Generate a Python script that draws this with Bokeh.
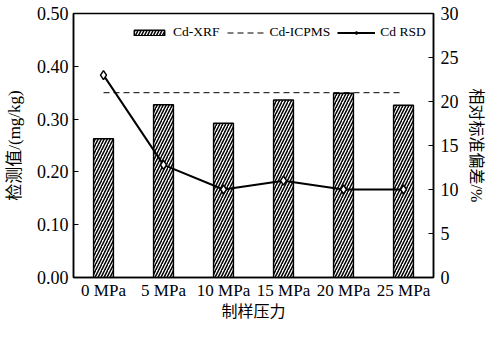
from bokeh.plotting import figure
from bokeh.models import (Range1d, LinearAxis, FactorRange, Legend, LegendItem,
                          FixedTicker, NumeralTickFormatter)
from bokeh.embed import file_html
from bokeh.resources import INLINE

categories = ["0 MPa", "5 MPa", "10 MPa", "15 MPa", "20 MPa", "25 MPa"]
xrf = [0.263, 0.327, 0.292, 0.336, 0.349, 0.326]
icpms = [0.35, 0.35, 0.35, 0.35, 0.35, 0.35]
rsd = [23.0, 12.8, 10.0, 11.0, 10.0, 10.0]
left_ticks = [0.0, 0.1, 0.2, 0.3, 0.4, 0.5]
right_ticks = [0, 5, 10, 15, 20, 25, 30]

SERIF = "'Liberation Serif', 'Noto Sans CJK SC'"

p = figure(x_range=FactorRange(*categories, range_padding=0), y_range=Range1d(0, 0.5),
           width=487, height=322, output_backend="svg", toolbar_location=None,
           min_border_left=73, min_border_right=51, min_border_top=13, min_border_bottom=42)
p.extra_y_ranges = {"rsd": Range1d(0, 30)}

p.xgrid.visible = False
p.ygrid.visible = False
p.outline_line_color = "black"
p.outline_line_width = 1.5
p.outline_line_alpha = 1

bars = p.vbar(x=categories, top=xrf, width=0.33, fill_color="white", line_color="black",
              line_width=1.5, hatch_pattern="/", hatch_color="black", hatch_weight=1.5,
              hatch_scale=6)
dash = p.line(categories, icpms, line_dash="6 4", line_color="black", line_width=1)
rl = p.line(categories, rsd, y_range_name="rsd", line_color="black", line_width=2)
rs = p.scatter(categories, rsd, y_range_name="rsd", marker="diamond", size=9,
               fill_color="white", line_color="black", line_width=1.5)

xa = p.xaxis[0]
xa.major_tick_in = 0
xa.major_tick_out = 0
xa.minor_tick_in = 0
xa.minor_tick_out = 0
xa.axis_line_width = 1.5
xa.major_label_text_font = SERIF
xa.major_label_text_font_size = "17px"
xa.major_label_text_color = "black"
xa.major_label_standoff = 3
xa.axis_label = "制样压力"
xa.axis_label_text_font = SERIF
xa.axis_label_text_font_size = "16px"
xa.axis_label_text_font_style = "normal"
xa.axis_label_text_color = "black"
xa.axis_label_standoff = 0

ya = p.yaxis[0]
ya.ticker = FixedTicker(ticks=left_ticks)
ya.formatter = NumeralTickFormatter(format="0.00")
ya.major_tick_in = 5
ya.major_tick_out = 0
ya.minor_tick_in = 0
ya.minor_tick_out = 0
ya.axis_line_width = 1.5
ya.major_label_text_font = SERIF
ya.major_label_text_font_size = "18px"
ya.major_label_text_color = "black"
ya.major_label_standoff = 5
ya.axis_label = "检测值/(mg/kg)"
ya.axis_label_text_font = SERIF
ya.axis_label_text_font_size = "17px"
ya.axis_label_text_font_style = "normal"
ya.axis_label_text_color = "black"
ya.axis_label_standoff = 10

ra = LinearAxis(y_range_name="rsd", ticker=FixedTicker(ticks=right_ticks))
ra.major_tick_in = 5
ra.major_tick_out = 0
ra.minor_tick_in = 0
ra.minor_tick_out = 0
ra.axis_line_width = 1.5
ra.major_label_text_font = SERIF
ra.major_label_text_font_size = "18px"
ra.major_label_text_color = "black"
ra.major_label_standoff = 7
ra.axis_label = "相对标准偏差/%"
ra.axis_label_text_font = SERIF
ra.axis_label_text_font_size = "16px"
ra.axis_label_text_font_style = "normal"
ra.axis_label_text_color = "black"
ra.axis_label_standoff = 6
p.add_layout(ra, "right")

legend = Legend(items=[LegendItem(label="Cd-XRF", renderers=[bars]),
                       LegendItem(label="Cd-ICPMS", renderers=[dash]),
                       LegendItem(label="Cd RSD", renderers=[rl, rs])],
                orientation="horizontal", location=(57, 237),
                border_line_color=None, background_fill_alpha=0,
                padding=1, margin=0, spacing=7, label_standoff=5,
                glyph_width=38, glyph_height=7, label_height=16,
                label_text_font=SERIF, label_text_font_size="13.5px",
                label_text_color="black")
p.add_layout(legend, "center")

open("out.html", "w").write(file_html(p, INLINE))
